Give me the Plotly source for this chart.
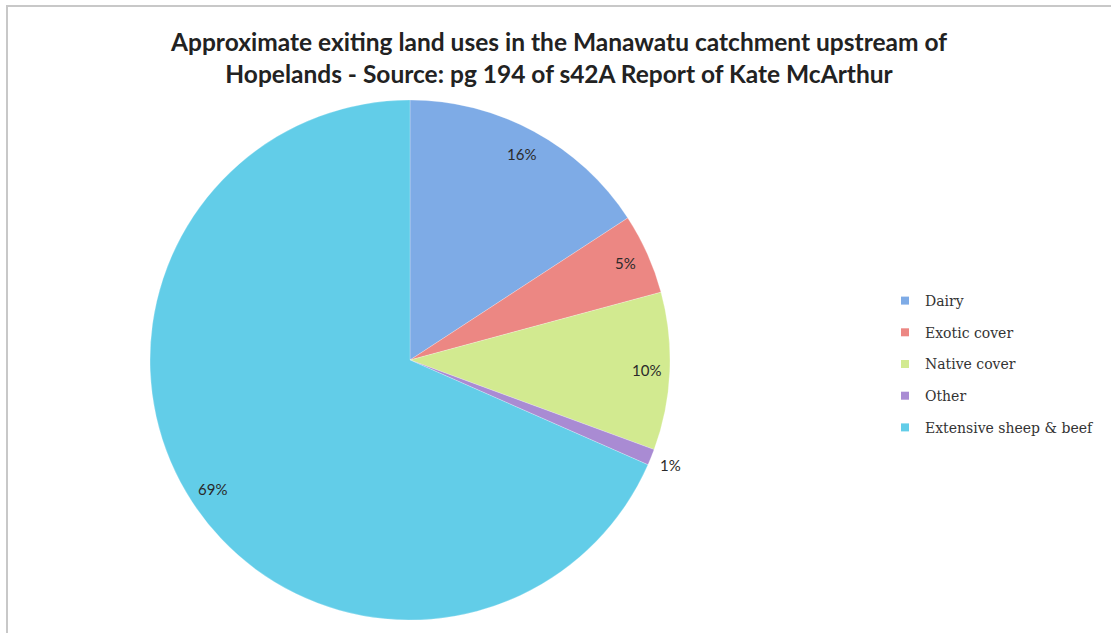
import math
import plotly.graph_objects as go

labels = ["Dairy", "Exotic cover", "Native cover", "Other", "Extensive sheep & beef"]
values = [15.8, 5.0, 9.8, 1.0, 68.4]
colors = ["#7eabe6", "#ec8783", "#d2ea90", "#a98bd3", "#62cde8"]
pct_text = ["16%", "5%", "10%", "1%", "69%"]
label_radius = [0.9, 0.91, 0.91, 1.08, 0.905]

W, H = 1111, 633
cx, cy, R = 410, 360, 260  # pie centre / radius in pixels

fig = go.Figure()
fig.add_trace(go.Pie(
    labels=labels, values=values, sort=False, direction="clockwise", rotation=0,
    marker=dict(colors=colors, line=dict(color="rgba(255,255,255,0.4)", width=0.6)),
    textinfo="none", hoverinfo="label+percent", showlegend=False,
    domain=dict(x=[(cx - R) / W, (cx + R) / W], y=[1 - (cy + R) / H, 1 - (cy - R) / H]),
))

# legend entries
for lab, col in zip(labels, colors):
    fig.add_trace(go.Scatter(x=[None], y=[None], mode="markers", name=lab,
                             marker=dict(symbol="square", size=8, color=col),
                             legendgroup=lab, showlegend=True))

# data labels at mid-angle of each slice
total = sum(values)
cum = 0.0
for v, t, rr in zip(values, pct_text, label_radius):
    mid = (cum + v / 2) / total * 2 * math.pi
    cum += v
    px = cx + rr * R * math.sin(mid)
    py = cy - rr * R * math.cos(mid)
    fig.add_annotation(x=px / W, y=1 - py / H, xref="paper", yref="paper",
                       xanchor="center", yanchor="middle",
                       text=t, showarrow=False,
                       font=dict(family="Lato, sans-serif", size=15, color="#2a2a2a"))

fig.update_layout(
    width=W, height=H, margin=dict(l=0, r=0, t=0, b=0),
    paper_bgcolor="white", plot_bgcolor="white",
    xaxis=dict(visible=False), yaxis=dict(visible=False),
    title=dict(text="<b>Approximate exiting land uses in the Manawatu catchment upstream of<br>Hopelands - Source: pg 194 of s42A Report of Kate McArthur</b>",
               x=559 / W, xanchor="center", y=1 - 51 / H, yanchor="middle",
               font=dict(family="Lato, sans-serif", size=24.5, color="#222222")),
    legend=dict(x=885 / W, y=1 - 364 / H, xanchor="left", yanchor="middle",
                font=dict(family="DejaVu Serif, serif", size=14, color="#333333"),
                tracegroupgap=10.5, bgcolor="rgba(0,0,0,0)", itemclick=False),
    shapes=[dict(type="rect", xref="paper", yref="paper",
                 x0=7 / W, x1=1.02, y0=-0.02, y1=1 - 6 / H,
                 line=dict(color="#c8c8c8", width=2), layer="below")],
)

fig.write_html("out.html", config={"displayModeBar": False},
               post_script="document.body.style.margin='0px';")
